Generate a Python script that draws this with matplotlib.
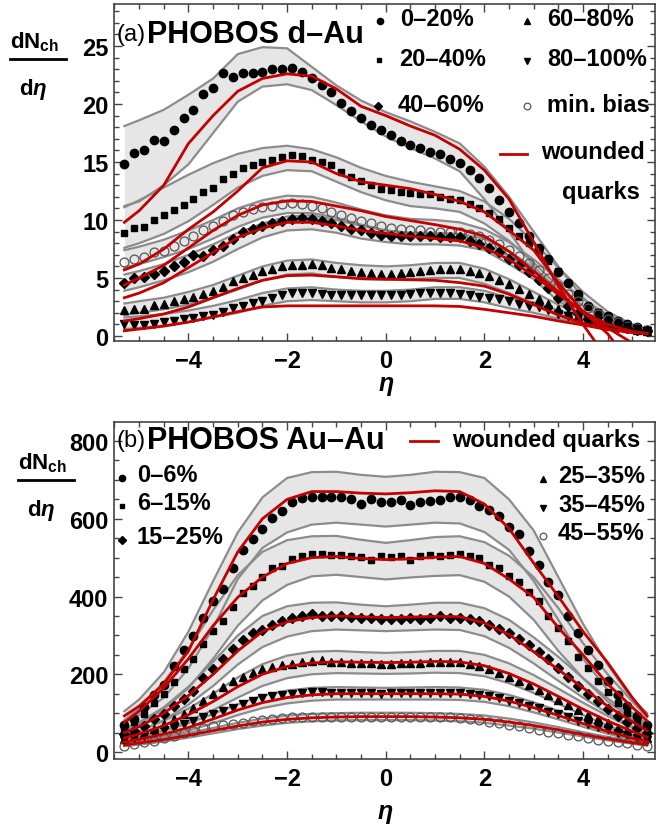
import numpy as np
import matplotlib
matplotlib.use("Agg")
import matplotlib.pyplot as plt
from matplotlib.lines import Line2D
from matplotlib.ticker import MultipleLocator

plt.rcParams['font.family'] = ['Liberation Sans', 'DejaVu Sans']
plt.rcParams['mathtext.fontset'] = 'custom'
plt.rcParams['mathtext.rm'] = 'Liberation Sans:bold'
plt.rcParams['mathtext.bf'] = 'Liberation Sans:bold'
plt.rcParams['mathtext.it'] = 'Liberation Sans:italic:bold'

# eta bin centres of the measured points and grid of the model curves
eta_pts = np.round(np.arange(-5.3, 5.31, 0.2), 1)
eta_curve = [-5.3, -5.0, -4.5, -4.0, -3.5, -3.0, -2.5, -2.0, -1.5, -1.0, -0.5, 0.0,
             0.5, 1.0, 1.5, 2.0, 2.5, 3.0, 3.5, 4.0, 4.5, 5.0, 5.3]
nan = np.nan

# ---------------- (a) d-Au ----------------
dau_0_20 = [14.8, 15.8, 16.0, 16.9, 16.8, 17.8, 18.8, 19.5, 20.9, 21.4,
            22.7, 22.3, 22.7, 22.7, 22.8, 23.0, 23.0, 23.1, 22.8, 22.2,
            21.6, 21.0, 20.1, 19.4, 18.8, 18.2, 17.8, 17.3, 16.8, 16.5,
            16.2, 15.9, 15.7, 15.3, 14.9, 14.3, 13.6, 12.8, 11.7, 10.7,
            9.7, 8.6, 7.6, 6.6, 5.5, 4.6, 3.6, 2.6, 2.0, 1.75,
            1.3, 1.0, 0.8, 0.55]
dau_20_40 = [8.9, 9.3, 9.4, 10.0, 10.4, 10.9, 11.3, 11.8, 12.4, 12.8,
             13.5, 14.0, 14.5, 14.7, 15.0, 15.2, 15.4, 15.6, 15.5, 15.2,
             15.0, 14.7, 14.1, 13.7, 13.4, 13.0, 12.7, 12.6, 12.4, 12.3,
             12.2, 12.2, 12.0, 11.8, 11.7, 11.4, 11.0, 10.6, 10.1, 9.3,
             8.6, 8.0, 7.3, 6.5, 5.6, 4.6, 3.4, 2.6, 2.1, 1.7,
             1.3, 1.0, 0.8, 0.6]
dau_40_60 = [4.6, 5.0, 5.1, 5.35, 5.6, 6.0, 6.4, 7.0, 6.9, 7.4,
             7.8, 8.4, 9.0, 9.2, 9.5, 9.7, 9.9, 10.1, 10.2, 10.1,
             9.9, 9.7, 9.5, 9.2, 9.1, 8.9, 8.7, 8.6, 8.6, 8.6,
             8.6, 8.6, 8.5, 8.5, 8.5, 8.2, 7.9, 7.6, 7.2, 6.6,
             6.1, 5.5, 4.8, 4.1, 3.3, 2.6, 2.0, 1.5, 1.2, 0.95,
             0.8, 0.65, 0.55, 0.45]
dau_60_80 = [2.2, 2.3, 2.3, 2.7, 2.75, 3.0, 3.2, 3.4, 3.6, 3.85,
             4.2, 4.7, 5.0, 5.3, 5.6, 5.8, 6.0, 6.1, 6.1, 6.2,
             6.1, 5.9, 5.8, 5.6, 5.5, 5.4, 5.35, 5.35, 5.4, 5.5,
             5.6, 5.7, 5.8, 5.8, 5.8, 5.6, 5.4, 5.2, 4.8, 4.5,
             4.05, 3.6, 3.2, 2.75, 2.3, 2.0, 1.75, 1.5, 1.25, 1.0,
             0.85, 0.7, 0.55, 0.45]
dau_80_100 = [1.0, 0.95, 0.95, 1.0, 1.2, 1.3, 1.5, 1.55, 1.7, 1.85,
              2.1, 2.4, 2.6, 2.85, 3.05, 3.25, 3.5, 3.7, 3.75, 3.75,
              3.6, 3.55, 3.55, 3.55, 3.5, 3.5, 3.5, 3.5, 3.5, 3.6,
              3.7, 3.75, 3.75, 3.75, 3.6, 3.5, 3.4, 3.3, 3.2, 3.0,
              2.75, 2.6, 2.5, 2.2, 1.9, 1.75, 1.6, 1.45, 1.3, 1.1,
              0.9, 0.75, 0.6, 0.45]
dau_minbias = [6.35, 6.6, 6.8, 7.2, 7.35, 7.8, 8.2, 8.65, 9.1, 9.5,
               9.9, 10.4, 10.7, 10.95, 11.1, 11.25, 11.4, 11.45, 11.4, 11.25,
               11.0, 10.7, 10.4, 10.15, 9.95, 9.75, 9.5, 9.35, 9.2, 9.15,
               9.1, 9.0, 9.0, 8.95, 8.95, 8.8, 8.6, 8.3, 7.9, 7.4,
               6.9, 6.3, 5.7, 5.0, 4.3, 3.6, 3.0, 2.4, 1.9, 1.5,
               1.2, 0.9, 0.7, 0.5]

# wounded quark model (red) on eta_curve
wq_a_0_20 = [9.8, 10.8, 13.0, 16.6, 19.0, 21.1, 22.2, 22.6, 22.4, 21.3, 19.8, 19.0,
             18.1, 17.3, 16.1, 14.3, 11.8, 8.1, 4.3, 1.0, -2.0, nan, nan]
wq_a_20_40 = [5.7, 6.2, 7.5, 9.2, 10.7, 12.5, 14.5, 15.1, 15.0, 14.0, 13.3, 13.0,
              12.7, 12.2, 11.6, 10.7, 9.1, 7.4, 4.6, 2.1, 0.2, -2.6, nan]
wq_a_minbias = [4.4, 5.0, 6.1, 7.6, 9.1, 10.4, 11.3, 11.65, 11.6, 11.2, 10.8, 10.3,
                9.95, 9.6, 9.2, 8.6, 7.3, 5.6, 3.8, 2.0, 0.7, -0.6, nan]
wq_a_40_60 = [3.3, 3.7, 4.6, 5.9, 7.2, 8.5, 9.3, 9.8, 9.8, 9.5, 9.1, 8.85,
              8.6, 8.4, 8.2, 7.6, 6.6, 5.2, 3.6, 2.1, 1.0, 0.4, 0.2]
wq_a_60_80 = [1.3, 1.5, 1.9, 2.5, 3.3, 4.1, 4.8, 5.2, 5.25, 5.1, 4.95, 4.9,
              4.85, 4.8, 4.6, 4.3, 3.6, 2.7, 1.8, 1.1, 0.6, 0.3, 0.2]
wq_a_80_100 = [0.45, 0.6, 0.85, 1.2, 1.65, 2.1, 2.5, 2.6, 2.6, 2.6, 2.6, 2.6,
               2.6, 2.6, 2.55, 2.3, 2.0, 1.7, 1.3, 0.95, 0.55, 0.35, 0.25]

# grey bands (upper, lower) on eta_curve
band_a_0_20 = ([18.1, 18.6, 19.5, 20.8, 22.2, 24.3, 24.9, 24.8, 23.2, 21.6, 20.3, 19.3,
                18.5, 17.6, 16.6, 14.6, 12.0, 9.0, 6.0, 3.3, 1.4, 0.6, 0.4],
               [11.2, 11.6, 13.0, 14.8, 17.5, 20.2, 21.5, 21.7, 21.2, 19.9, 18.5, 17.2,
                16.2, 15.3, 14.2, 11.8, 9.0, 6.0, 3.4, 1.6, 0.6, 0.3, 0.25])
band_a_20_40 = ([11.1, 11.7, 12.8, 13.9, 14.9, 15.7, 16.2, 16.4, 16.1, 15.4, 14.5, 13.8,
                 13.3, 12.9, 12.5, 11.6, 10.1, 8.1, 5.9, 3.8, 2.1, 1.0, 0.6],
                [7.6, 8.0, 8.8, 9.9, 11.3, 12.8, 13.8, 14.3, 14.2, 13.3, 12.4, 11.7,
                 11.2, 11.0, 10.7, 9.7, 8.2, 6.3, 4.3, 2.6, 1.3, 0.6, 0.4])
band_a_minbias = ([7.4, 7.7, 8.3, 9.1, 10.0, 11.0, 11.7, 12.1, 12.0, 11.5, 10.9, 10.4,
                   10.1, 10.0, 9.8, 9.2, 8.1, 6.6, 4.9, 3.2, 1.8, 0.9, 0.6],
                  [5.9, 6.2, 6.8, 7.5, 8.4, 9.4, 10.2, 10.6, 10.6, 10.2, 9.6, 9.1,
                   8.8, 8.7, 8.5, 7.9, 6.9, 5.5, 4.0, 2.6, 1.4, 0.7, 0.4])
band_a_40_60 = ([5.3, 5.6, 6.2, 7.0, 7.9, 8.9, 9.7, 10.3, 10.4, 10.0, 9.5, 9.1,
                 8.9, 8.9, 8.8, 8.4, 7.3, 5.9, 4.0, 2.6, 1.4, 0.75, 0.55],
                [3.9, 4.2, 4.8, 5.5, 6.4, 7.5, 8.5, 9.1, 9.2, 8.9, 8.4, 8.1,
                 7.9, 7.9, 7.8, 7.4, 6.2, 4.9, 3.0, 1.8, 0.9, 0.5, 0.35])
band_a_60_80 = ([2.8, 3.0, 3.3, 3.8, 4.4, 5.2, 6.0, 6.5, 6.6, 6.3, 6.1, 6.0,
                 6.1, 6.3, 6.3, 5.8, 4.9, 3.8, 2.7, 1.8, 1.1, 0.6, 0.4],
                [1.8, 2.0, 2.3, 2.7, 3.3, 4.0, 4.8, 5.3, 5.4, 5.1, 4.9, 4.85,
                 4.9, 5.0, 5.0, 4.5, 3.7, 2.8, 1.9, 1.2, 0.7, 0.4, 0.3])
band_a_80_100 = ([1.6, 1.7, 1.9, 2.2, 2.6, 3.1, 3.7, 4.1, 4.2, 4.0, 3.9, 3.9,
                  4.0, 4.2, 4.2, 3.9, 3.3, 2.9, 2.2, 1.6, 1.1, 0.65, 0.5],
                 [0.6, 0.7, 0.9, 1.2, 1.6, 2.0, 2.6, 3.0, 3.1, 3.0, 2.9, 2.9,
                  3.0, 3.2, 3.2, 2.9, 2.4, 2.0, 1.5, 1.0, 0.6, 0.35, 0.25])

# ---------------- (b) Au-Au ----------------
auau_0_6 = [70, 86, 117, 146, 172, 221, 262, 298, 345, 388,
            419, 473, 520, 549, 575, 602, 619, 643, 653, 656,
            657, 655, 655, 650, 638, 651, 644, 642, 649, 636,
            643, 646, 648, 656, 655, 649, 633, 623, 608, 579,
            561, 518, 480, 437, 403, 351, 307, 262, 225, 183,
            147, 119, 93, 69]
auau_6_15 = [58, 78, 97, 127, 149, 180, 213, 238, 277, 311,
             337, 372, 408, 427, 450, 473, 479, 497, 503, 510,
             509, 506, 506, 503, 501, 495, 505, 501, 505, 495,
             503, 506, 503, 508, 509, 505, 499, 482, 473, 454,
             437, 411, 388, 350, 318, 285, 245, 215, 183, 155,
             125, 100, 80, 58]
auau_15_25 = [46, 55, 67, 85, 97, 119, 136, 157, 191, 213,
              238, 266, 287, 305, 314, 326, 337, 345, 351, 354,
              350, 350, 351, 348, 345, 345, 341, 343, 341, 345,
              343, 345, 349, 346, 344, 341, 337, 328, 317, 305,
              290, 275, 257, 238, 215, 192, 170, 150, 130, 110,
              92, 77, 62, 48]
auau_25_35 = [34, 40, 50, 59, 72, 86, 97, 114, 132, 149,
              166, 183, 192, 204, 213, 219, 223, 227, 231, 234,
              236, 232, 232, 229, 229, 228, 227, 227, 229, 229,
              229, 231, 231, 232, 231, 226, 221, 213, 204, 194,
              183, 172, 160, 147, 134, 121, 108, 96, 85, 74,
              63, 53, 44, 35]
auau_35_45 = [30, 36, 42, 49, 57, 63, 72, 80, 89, 98,
              106, 114, 123, 131, 139, 144, 147, 149, 152, 154,
              155, 153, 152, 152, 151, 151, 150, 151, 152, 151,
              152, 153, 152, 153, 152, 150, 147, 143, 138, 132,
              126, 119, 112, 104, 97, 89, 81, 73, 65, 58,
              50, 43, 36, 30]
auau_45_55 = [16, 21, 25, 29, 35, 42, 49, 55, 61, 66,
              69, 73, 75, 80, 83, 86, 87, 89, 89, 90,
              91, 91, 91, 91, 90, 91, 91, 91, 90, 90,
              91, 91, 90, 89, 87, 85, 83, 78, 74, 69,
              66, 61, 56, 52, 48, 44, 40, 36, 32, 28,
              25, 22, 19, 16]

wq_b_0_6 = [93, 118, 175, 260, 392, 515, 600, 650, 670, 670, 666, 664,
            667, 672, 670, 638, 575, 486, 400, 310, 230, 140, 93]
wq_b_6_15 = [76, 105, 165, 240, 325, 398, 450, 485, 500, 503, 498, 495,
             497, 501, 503, 485, 445, 398, 320, 250, 175, 115, 80]
wq_b_15_25 = [50, 65, 100, 145, 200, 260, 310, 335, 346, 350, 348, 346,
              347, 349, 348, 332, 302, 258, 212, 165, 118, 78, 55]
wq_b_25_35 = [36, 46, 68, 96, 130, 168, 200, 220, 229, 232, 231, 230,
              231, 233, 232, 222, 202, 175, 143, 110, 80, 53, 38]
wq_b_35_45 = [26, 33, 46, 63, 85, 108, 127, 140, 147, 150, 150, 150,
              150, 150, 149, 143, 131, 114, 94, 73, 53, 36, 27]
wq_b_45_55 = [18, 23, 32, 43, 55, 67, 77, 84, 88, 90, 91, 91,
              91, 90, 88, 84, 77, 68, 57, 45, 34, 24, 19]

band_b_0_6 = ([105, 135, 205, 310, 440, 565, 655, 705, 720, 721, 713, 708,
               713, 721, 720, 705, 650, 570, 450, 330, 225, 135, 100],
              [75, 95, 140, 215, 320, 445, 525, 565, 585, 590, 585, 580,
               585, 590, 588, 566, 520, 440, 340, 240, 160, 100, 72])
band_b_6_15 = ([82, 112, 180, 265, 365, 455, 515, 545, 555, 556, 546, 538,
                545, 553, 555, 540, 505, 450, 370, 280, 200, 130, 90],
               [55, 72, 110, 165, 240, 325, 390, 430, 452, 456, 450, 444,
                449, 453, 455, 438, 400, 340, 260, 190, 130, 85, 60])
band_b_15_25 = ([58, 76, 115, 168, 232, 300, 350, 375, 384, 385, 379, 375,
                 379, 384, 384, 370, 340, 295, 245, 190, 138, 92, 65],
                [40, 53, 82, 122, 170, 225, 270, 297, 311, 315, 313, 311,
                 313, 315, 314, 298, 268, 228, 183, 140, 100, 66, 45])
band_b_25_35 = ([42, 54, 80, 112, 150, 192, 226, 248, 258, 260, 257, 255,
                 257, 260, 260, 250, 228, 198, 163, 127, 93, 62, 45],
                [30, 39, 57, 80, 108, 140, 170, 190, 200, 203, 202, 201,
                 202, 204, 203, 195, 177, 152, 124, 95, 68, 45, 32])
band_b_35_45 = ([30, 38, 54, 74, 98, 123, 145, 158, 165, 167, 166, 165,
                 166, 167, 166, 160, 147, 128, 106, 83, 61, 42, 31],
                [22, 28, 40, 55, 74, 95, 113, 125, 132, 135, 135, 135,
                 135, 135, 134, 129, 118, 102, 84, 65, 47, 32, 24])
band_b_45_55 = ([21, 27, 37, 49, 62, 75, 86, 94, 98, 100, 101, 101,
                 101, 100, 98, 94, 86, 76, 64, 51, 39, 28, 22],
                [15, 19, 27, 37, 48, 59, 68, 75, 79, 81, 82, 82,
                 82, 81, 79, 75, 68, 60, 50, 40, 30, 21, 16])

FILL = '#e6e6e6'
GREY = '#8c8c8c'
RED = '#c40000'
W, H = 658, 828
TXT = 17


def fx(px):
    return px / W


def fy(py):
    return 1 - py / H


mk = {
    'circle': dict(marker='o', ms=6.0, mfc='black', mec='black'),
    'square': dict(marker='s', ms=4.6, mfc='black', mec='black'),
    'diamond': dict(marker='D', ms=5.0, mfc='black', mec='black'),
    'up': dict(marker='^', ms=5.6, mfc='black', mec='black'),
    'down': dict(marker='v', ms=5.6, mfc='black', mec='black'),
    'open': dict(marker='o', ms=6.4, mfc='none', mec='#555555', mew=0.9),
}


def draw_panel(ax, bands, points, models):
    for hi, lo in bands:
        ax.fill_between(eta_curve, lo, hi, color=FILL, lw=0, zorder=1)
        ax.plot(eta_curve, hi, color=GREY, lw=1.6, zorder=2)
        ax.plot(eta_curve, lo, color=GREY, lw=1.6, zorder=2)
    for vals, style in points:
        ax.plot(eta_pts, vals, ls='none', zorder=3, **mk[style])
    for vals in models:
        ax.plot(eta_curve, vals, color=RED, lw=2.0, zorder=4)


def style_axes(ax, ymajor, yminor, ylim):
    ax.set_xlim(-5.51, 5.46)
    ax.set_ylim(*ylim)
    ax.xaxis.set_major_locator(MultipleLocator(2))
    ax.xaxis.set_minor_locator(MultipleLocator(0.5))
    ax.yaxis.set_major_locator(MultipleLocator(ymajor))
    ax.yaxis.set_minor_locator(MultipleLocator(yminor))
    ax.tick_params(which='both', direction='in', top=True, right=True,
                   color='#444444', width=1.0, labelsize=TXT)
    ax.tick_params(which='major', length=6)
    ax.tick_params(which='minor', length=3.5)
    ax.tick_params(axis='x', pad=6)
    ax.tick_params(axis='y', pad=4)
    for lab in ax.get_xticklabels() + ax.get_yticklabels():
        lab.set_fontweight('bold')
    for sp in ax.spines.values():
        sp.set_color('#444444')
        sp.set_linewidth(1.2)


fig = plt.figure(figsize=(6.58, 8.28), dpi=100)
ax_a = fig.add_axes([fx(114), fy(342), (655 - 114) / W, (342 - 5) / H])
ax_b = fig.add_axes([fx(114), fy(760), (655 - 114) / W, (760 - 423) / H])

draw_panel(ax_a,
           [band_a_0_20, band_a_20_40, band_a_minbias, band_a_40_60, band_a_60_80, band_a_80_100],
           [(dau_0_20, 'circle'), (dau_20_40, 'square'), (dau_minbias, 'open'),
            (dau_40_60, 'diamond'), (dau_60_80, 'up'), (dau_80_100, 'down')],
           [wq_a_0_20, wq_a_20_40, wq_a_minbias, wq_a_40_60, wq_a_60_80, wq_a_80_100])
style_axes(ax_a, 5, 1, (-0.43, 28.62))

draw_panel(ax_b,
           [band_b_0_6, band_b_6_15, band_b_15_25, band_b_25_35, band_b_35_45, band_b_45_55],
           [(auau_0_6, 'circle'), (auau_6_15, 'square'), (auau_15_25, 'diamond'),
            (auau_25_35, 'up'), (auau_35_45, 'down'), (auau_45_55, 'open')],
           [wq_b_0_6, wq_b_6_15, wq_b_15_25, wq_b_25_35, wq_b_35_45, wq_b_45_55])
style_axes(ax_b, 200, 50, (-18, 849))


def legend_marker(x, y, style, scale=0.75):
    kw = dict(mk[style])
    kw['ms'] = kw['ms'] * scale
    fig.add_artist(Line2D([fx(x)], [fy(y)], ls='none', transform=fig.transFigure, **kw))


def label(x, y, s, size=TXT, weight='bold', **kw):
    fig.text(fx(x), fy(y), s, fontsize=size, fontweight=weight, ha='left', va='center', **kw)


# titles
label(116, 35, '(a)', size=17, weight='normal')
label(147, 35, 'PHOBOS d–Au', size=22)
label(116, 441, '(b)', size=17, weight='normal')
label(147, 441, 'PHOBOS Au–Au', size=22)

# legend of panel (a)
leg_a = [(380, 22, 'circle', '0–20%'), (379, 61, 'square', '20–40%'), (378, 107, 'diamond', '40–60%'),
         (527, 22, 'up', '60–80%'), (527, 62, 'down', '80–100%'), (527, 107, 'open', 'min. bias')]
for x, y, st, txt in leg_a:
    legend_marker(x, y, st)
    label(x + 20, y - 2, txt)
fig.add_artist(Line2D([fx(500), fx(527)], [fy(155), fy(155)], color=RED, lw=2.0, transform=fig.transFigure))
label(541, 153, 'wounded')
label(562, 192, 'quarks')

# legend of panel (b)
fig.add_artist(Line2D([fx(410), fx(438)], [fy(442), fy(442)], color=RED, lw=2.0, transform=fig.transFigure))
label(452, 441, 'wounded quarks')
leg_b = [(122, 479, 'circle', '0–6%'), (122, 507, 'square', '6–15%'), (122, 541, 'diamond', '15–25%'),
         (543, 480, 'up', '25–35%'), (543, 509, 'down', '35–45%'), (543, 537, 'open', '45–55%')]
for x, y, st, txt in leg_b:
    legend_marker(x, y, st)
    label(x + 15, y - 3, txt)

# y labels as fractions, x labels
for top, left in [(42, 10), (463, 18)]:
    label(left, top, r'$\mathrm{dN}_{\mathrm{ch}}$', size=16)
    fig.add_artist(Line2D([fx(left), fx(left + 56)], [fy(top + 18), fy(top + 18)],
                          color='black', lw=2.0, transform=fig.transFigure))
    label(left + 9, top + 48, r'd$\eta$', size=16)
label(378, 386, r'$\eta$', size=18)
label(377, 814, r'$\eta$', size=18)

fig.savefig('out.png', dpi=100)
